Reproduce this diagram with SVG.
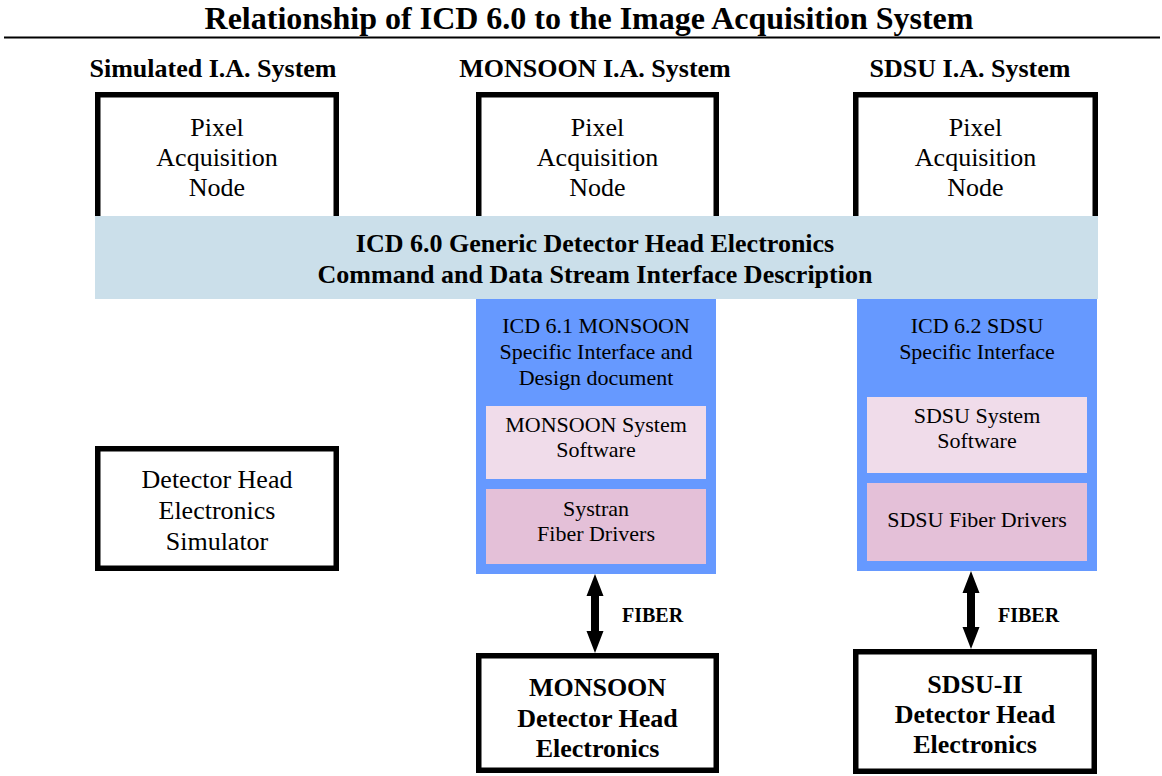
<svg xmlns="http://www.w3.org/2000/svg" width="1162" height="776" viewBox="0 0 1162 776">
<style>
text{font-family:"Liberation Serif","Times New Roman",serif;fill:#000;text-anchor:middle}
.t{font-size:32px;font-weight:bold}
.h{font-size:26px;font-weight:bold}
.n{font-size:26px}
.b{font-size:26px;font-weight:bold}
.s{font-size:22px}
.f{font-size:20px;font-weight:bold;text-anchor:start}
.box{fill:#fff;stroke:#000;stroke-width:5.5}
.band{fill:#cbdfea}
.blue{fill:#6699ff}
.lp{fill:#f0dcea}
.dp{fill:#e4c0d8}
.arr{fill:#000}
</style>
<rect width="1162" height="776" fill="#fff"/>
<g id="title">
<line x1="4" y1="37.5" x2="1160" y2="37.5" stroke="#000" stroke-width="2"/>
<text class="t" x="589" y="29">Relationship of ICD 6.0 to the Image Acquisition System</text>
</g>
<g id="headers">
<text class="h" x="213" y="77">Simulated I.A. System</text>
<text class="h" x="595" y="77">MONSOON I.A. System</text>
<text class="h" x="970" y="77">SDSU I.A. System</text>
</g>
<g id="pan-sim">
<rect class="box" x="97.75" y="94.75" width="238.5" height="130"/>
<text class="n" x="217" y="136">Pixel</text>
<text class="n" x="217" y="166">Acquisition</text>
<text class="n" x="217" y="196">Node</text>
</g>
<g id="pan-monsoon">
<rect class="box" x="478.75" y="94.75" width="237.5" height="130"/>
<text class="n" x="597.5" y="136">Pixel</text>
<text class="n" x="597.5" y="166">Acquisition</text>
<text class="n" x="597.5" y="196">Node</text>
</g>
<g id="pan-sdsu">
<rect class="box" x="855.75" y="94.75" width="239.5" height="130"/>
<text class="n" x="975.5" y="136">Pixel</text>
<text class="n" x="975.5" y="166">Acquisition</text>
<text class="n" x="975.5" y="196">Node</text>
</g>
<g id="icd60">
<rect class="band" x="95" y="216" width="1003" height="83"/>
<text class="b" x="595" y="252">ICD 6.0 Generic Detector Head Electronics</text>
<text class="b" x="595" y="283">Command and Data Stream Interface Description</text>
</g>
<g id="icd61">
<rect class="blue" x="476" y="299" width="240" height="275"/>
<text class="s" x="596" y="333">ICD 6.1 MONSOON</text>
<text class="s" x="596" y="359">Specific Interface and</text>
<text class="s" x="596" y="385">Design document</text>
</g>
<g id="monsoon-sw">
<rect class="lp" x="486" y="406" width="220" height="73"/>
<text class="s" x="596" y="432">MONSOON System</text>
<text class="s" x="596" y="457">Software</text>
</g>
<g id="systran">
<rect class="dp" x="486" y="489" width="220" height="75"/>
<text class="s" x="596" y="516">Systran</text>
<text class="s" x="596" y="541">Fiber Drivers</text>
</g>
<g id="icd62">
<rect class="blue" x="857" y="299" width="240" height="272"/>
<text class="s" x="977" y="333">ICD 6.2 SDSU</text>
<text class="s" x="977" y="359">Specific Interface</text>
</g>
<g id="sdsu-sw">
<rect class="lp" x="867" y="397" width="220" height="76"/>
<text class="s" x="977" y="423">SDSU System</text>
<text class="s" x="977" y="448">Software</text>
</g>
<g id="sdsu-fd">
<rect class="dp" x="867" y="483" width="220" height="78"/>
<text class="s" x="977" y="527">SDSU Fiber Drivers</text>
</g>
<g id="dhe-sim">
<rect class="box" x="97.75" y="448.75" width="238.5" height="119.5"/>
<text class="n" x="217" y="488">Detector Head</text>
<text class="n" x="217" y="519">Electronics</text>
<text class="n" x="217" y="550">Simulator</text>
</g>
<g id="dhe-monsoon">
<rect class="box" x="478.75" y="655.75" width="237.5" height="114.5"/>
<text class="b" x="597.5" y="696">MONSOON</text>
<text class="b" x="597.5" y="727">Detector Head</text>
<text class="b" x="597.5" y="757">Electronics</text>
</g>
<g id="dhe-sdsu">
<rect class="box" x="855.75" y="651.75" width="238.5" height="119.5"/>
<text class="b" x="975" y="693">SDSU-II</text>
<text class="b" x="975" y="723">Detector Head</text>
<text class="b" x="975" y="753">Electronics</text>
</g>
<g id="connectors">
<polygon class="arr" points="595,574 603.5,596 599,596 599,631 603.5,631 595,653 586.5,631 591,631 591,596 586.5,596"/>
<text class="f" x="622" y="622">FIBER</text>
<polygon class="arr" points="971,571 979.5,593 975,593 975,627 979.5,627 971,649 962.5,627 967,627 967,593 962.5,593"/>
<text class="f" x="998" y="622">FIBER</text>
</g>
</svg>
